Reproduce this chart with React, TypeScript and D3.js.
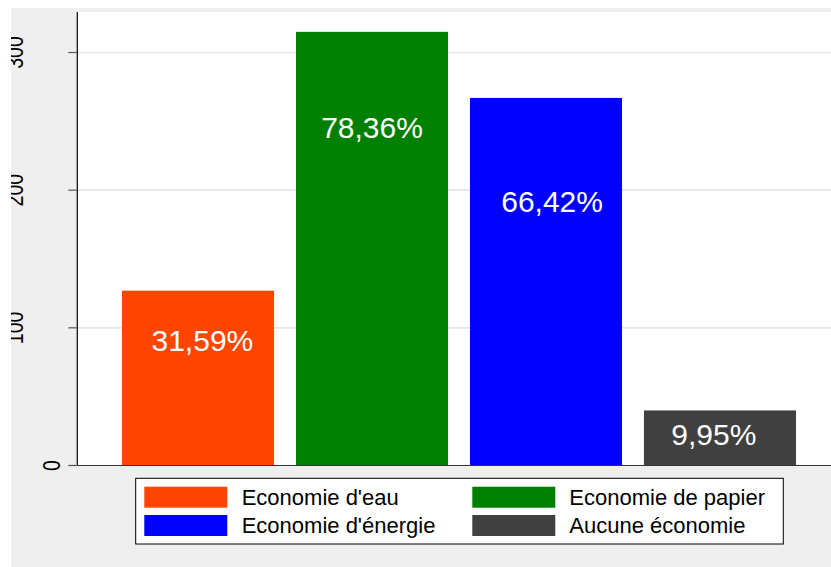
import React from "react";
import * as d3 from "d3";

const categories = ["Economie d'eau", "Economie de papier", "Economie d'énergie", "Aucune économie"];
const counts = [127, 315, 267, 40];
const percentLabels = ["31,59%", "78,36%", "66,42%", "9,95%"];
const labelValues = [83, 238, 184, 15];
const labelShift = [0.025, 0, 0.035, -0.035];
const colors = ["#ff4500", "#008000", "#0000ff", "#404040"];
const yTicks = [0, 100, 200, 300];

const W = 831;
const H = 567;
const NARROW = 0.85;

export default function App() {
  const plotLeft = 77.3;
  const plotTop = 12;
  const y = d3.scaleLinear().domain([0, 300]).range([465.5, 52.5]);
  const x = d3.scaleBand<string>().domain(categories).range([122, 796]).paddingInner(0.126).paddingOuter(0);
  const step = x.step();
  const bw = x.bandwidth();
  const base = y(0);

  const legendX = 135.7;
  const legendY = 478.3;
  const legendW = 647.6;
  const legendH = 65.7;
  const colX = [144.3, 472.3];
  const textX = [241.7, 569.3];
  const rowY = [486.7, 515];

  return (
    <svg width={W} height={H} style={{ position: "absolute", left: 0, top: 0, display: "block" }}>
      <defs>
        <clipPath id="outer">
          <rect x={11} y={8} width={W - 11} height={H - 8} />
        </clipPath>
      </defs>
      <rect x={0} y={0} width={W} height={H} fill="#ffffff" />
      <g clipPath="url(#outer)">
        <rect x={11} y={8} width={W - 11} height={H - 8} fill="#efefef" />
        <rect x={plotLeft} y={plotTop} width={W - plotLeft} height={base - plotTop} fill="#ffffff" />
        {yTicks.filter((t) => t > 0).map((t) => (
          <line key={"g" + t} x1={plotLeft} x2={W} y1={y(t)} y2={y(t)} stroke="#e6e6e6" strokeWidth={1.6} />
        ))}
        {categories.map((c, i) => (
          <rect key={c} x={x(c)} y={y(counts[i])} width={bw} height={base - y(counts[i])} fill={colors[i]} />
        ))}
        {categories.map((c, i) => (
          <text
            key={"l" + c}
            x={(x(c) as number) + bw / 2 + labelShift[i] * step}
            y={y(labelValues[i])}
            textAnchor="middle"
            fill="#ffffff"
            fontFamily="'Liberation Sans', Arial, sans-serif"
            fontSize={30}
          >
            {percentLabels[i]}
          </text>
        ))}
        <line x1={plotLeft} x2={plotLeft} y1={plotTop} y2={base} stroke="#000000" strokeWidth={1.2} />
        <line x1={plotLeft} x2={W} y1={base} y2={base} stroke="#333333" strokeWidth={1.2} />
        {yTicks.map((t) => {
          const label = String(t);
          const inkCenter = 70 - 18.5 * label.length;
          const bx = inkCenter + 8.3;
          return (
            <g key={"t" + t}>
              <line x1={68.3} x2={plotLeft} y1={y(t)} y2={y(t)} stroke="#555555" strokeWidth={1.2} />
              <text
                transform={`translate(${bx},${y(t)}) rotate(-90) scale(${NARROW},1)`}
                textAnchor="middle"
                fill="#000000"
                fontFamily="'Liberation Sans', Arial, sans-serif"
                fontSize={23}
              >
                {label}
              </text>
            </g>
          );
        })}
        <rect x={legendX} y={legendY} width={legendW} height={legendH} fill="#ffffff" stroke="#000000" strokeWidth={1} />
        {categories.map((c, i) => {
          const col = i % 2;
          const row = Math.floor(i / 2);
          return (
            <g key={"lg" + c}>
              <rect x={colX[col]} y={rowY[row]} width={83} height={21} fill={colors[i]} />
              <text
                x={textX[col]}
                y={rowY[row] + 18.4}
                fill="#000000"
                fontFamily="'Liberation Sans', Arial, sans-serif"
                fontSize={22}
              >
                {c}
              </text>
            </g>
          );
        })}
      </g>
    </svg>
  );
}
